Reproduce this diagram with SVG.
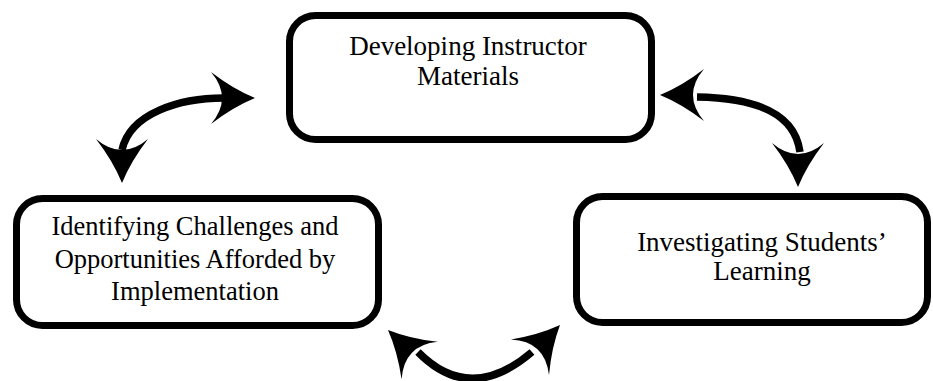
<svg xmlns="http://www.w3.org/2000/svg" width="933" height="381" viewBox="0 0 933 381">
<style>
.box{fill:#fff;stroke:#000;stroke-width:7}
.lbl{font-family:"Liberation Serif","Times New Roman","DejaVu Serif",serif;font-size:26.5px;fill:#000;text-anchor:middle}
.big{font-size:27px}
.arc{fill:none;stroke:#000;stroke-width:7.5;stroke-linecap:butt}
.head{fill:#000;stroke:none}
</style>
<defs>
<path id="ah" d="M0,0 Q-22,-9 -44,-26 Q-33,-13 -33,0 Q-33,13 -44,26 Q-22,9 0,0 Z"/>
</defs>
<rect width="933" height="381" fill="#fff"/>
<g id="n1">
<rect class="box" x="289.5" y="15.5" width="362" height="124" rx="26"/>
<text class="lbl big" x="468" y="55">Developing Instructor</text>
<text class="lbl big" x="468" y="85">Materials</text>
</g>
<g id="n2">
<rect class="box" x="16.5" y="198.5" width="362" height="127" rx="26"/>
<text class="lbl" x="195" y="235">Identifying Challenges and</text>
<text class="lbl" x="195" y="268">Opportunities Afforded by</text>
<text class="lbl" x="195" y="300">Implementation</text>
</g>
<g id="n3">
<rect class="box" x="576.5" y="196.5" width="351" height="126" rx="26"/>
<text class="lbl big" x="762" y="251">Investigating Students’</text>
<text class="lbl big" x="762" y="280">Learning</text>
</g>
<g id="connectors">
<path class="arc" d="M224,98 C180,98 130,113 122,150"/>
<use href="#ah" class="head" transform="translate(255,98)"/>
<use href="#ah" class="head" transform="translate(122,183) rotate(90)"/>
<path class="arc" d="M697,97 C760,98 795,115 800,152"/>
<use href="#ah" class="head" transform="translate(660,95) rotate(180)"/>
<use href="#ah" class="head" transform="translate(798,187) rotate(90)"/>
<path class="arc" d="M418,352 Q470,405 532,352"/>
<use href="#ah" class="head" transform="translate(388,330) rotate(-136)"/>
<use href="#ah" class="head" transform="translate(560,325) rotate(-47)"/>
</g>
</svg>
